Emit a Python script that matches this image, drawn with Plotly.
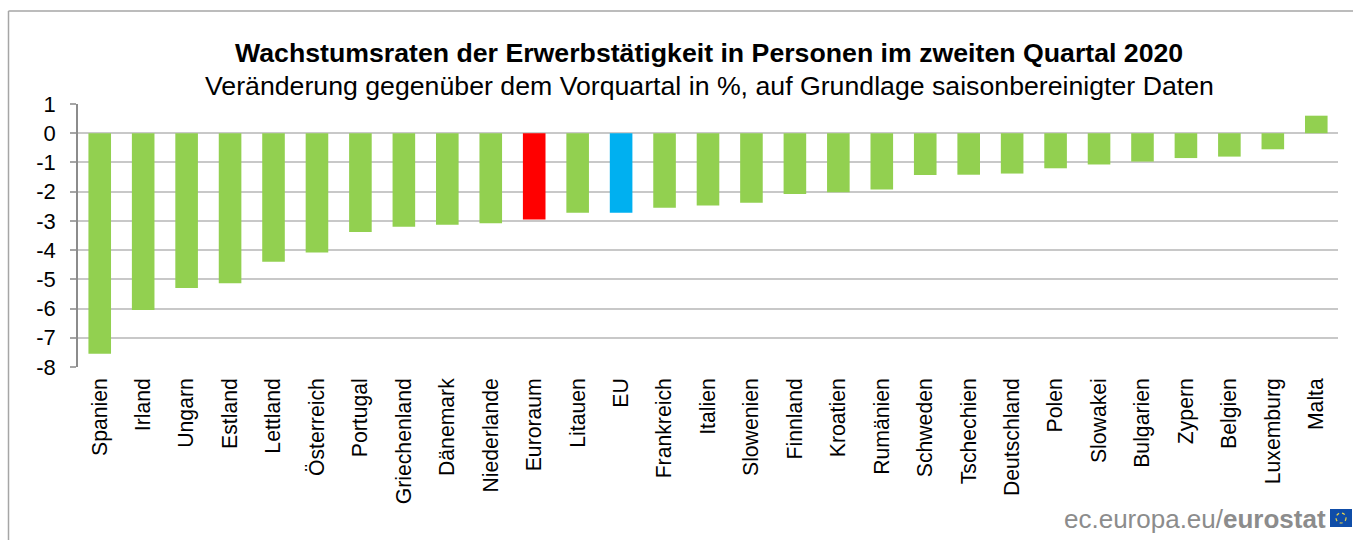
import plotly.graph_objects as go

countries = ["Spanien","Irland","Ungarn","Estland","Lettland","Österreich","Portugal","Griechenland","Dänemark","Niederlande","Euroraum","Litauen","EU","Frankreich","Italien","Slowenien","Finnland","Kroatien","Rumänien","Schweden","Tschechien","Deutschland","Polen","Slowakei","Bulgarien","Zypern","Belgien","Luxemburg","Malta"]
growth = [-7.55,-6.05,-5.3,-5.13,-4.4,-4.08,-3.38,-3.2,-3.13,-3.08,-2.95,-2.72,-2.72,-2.55,-2.47,-2.38,-2.08,-2.02,-1.93,-1.43,-1.42,-1.38,-1.2,-1.07,-0.97,-0.85,-0.8,-0.55,0.6]
GREEN, RED, BLUE = "#92D050", "#FF0000", "#00B0F0"
highlight = {"Euroraum": RED, "EU": BLUE}
colors = [highlight.get(c, GREEN) for c in countries]
y_ticks = [1,0,-1,-2,-3,-4,-5,-6,-7,-8]
FONT = "Liberation Sans, Arial, sans-serif"

fig = go.Figure(go.Bar(x=countries, y=growth, marker=dict(color=colors, line_width=0), width=0.52))

W, H = 1353, 540
L, R, TOP, B = 78, 15, 104, 173
pw, ph = W-L-R, H-TOP-B
px = lambda v: (v-L)/pw
py = lambda v: (H-B-v)/ph

def T(text, x, y, size, color="#000", anchor="center"):
    fig.add_annotation(text=text, xref="paper", yref="paper", x=px(x), y=py(y),
                       showarrow=False, font=dict(family=FONT, size=size, color=color),
                       xanchor=anchor, yanchor="middle", borderpad=0, borderwidth=0)

T("<b>Wachstumsraten der Erwerbstätigkeit in Personen im zweiten Quartal 2020</b>", 709, 53, 26.7)
T("Veränderung gegenüber dem Vorquartal in %, auf Grundlage saisonbereinigter Daten", 709, 86, 26.7)
T("ec.europa.eu/<b>eurostat</b>", 1326, 519, 26, "#8C8C8C", "right")

frame = dict(type="line", xref="paper", yref="paper", line=dict(color="#A6A6A6", width=1.5), layer="below")
fig.add_shape(x0=px(8.5), x1=px(8.5), y0=py(11), y1=py(540), **frame)
fig.add_shape(x0=px(8.5), x1=px(1353), y0=py(11), y1=py(11), **frame)
fig.add_shape(type="rect", xref="paper", yref="paper", x0=px(1330), x1=px(1352), y0=py(509), y1=py(527),
              fillcolor="#0F4DA8", line_width=0)
fig.add_shape(type="circle", xref="paper", yref="paper", x0=px(1336), x1=px(1346), y0=py(513), y1=py(523),
              line=dict(color="#E8D44A", width=1.2, dash="dot"))

fig.update_layout(
    width=W, height=H, margin=dict(l=L, r=R, t=TOP, b=B, autoexpand=False),
    paper_bgcolor="white", plot_bgcolor="white", showlegend=False,
    font=dict(family=FONT, color="#000"),
    xaxis=dict(type="category", categoryorder="array", categoryarray=countries, tickangle=-90,
               ticks="", showgrid=False, zeroline=False, showline=False,
               tickfont=dict(size=21.2), ticklabelstandoff=6, automargin=False),
    yaxis=dict(range=[-8,1], tickmode="array", tickvals=y_ticks, ticktext=[str(v) for v in y_ticks],
               ticks="outside", ticklen=6, tickcolor="#A6A6A6", tickwidth=1.5, showline=True, linecolor="#8C8C8C",
               linewidth=1.5, gridcolor="#C8C8C8", gridwidth=1.5, zeroline=False, tickfont=dict(size=22),
               ticklabelstandoff=10, automargin=False),
)
fig.write_html("out.html", config={"displayModeBar": False},
               post_script="document.body.style.margin='0';document.body.style.overflow='hidden';")
